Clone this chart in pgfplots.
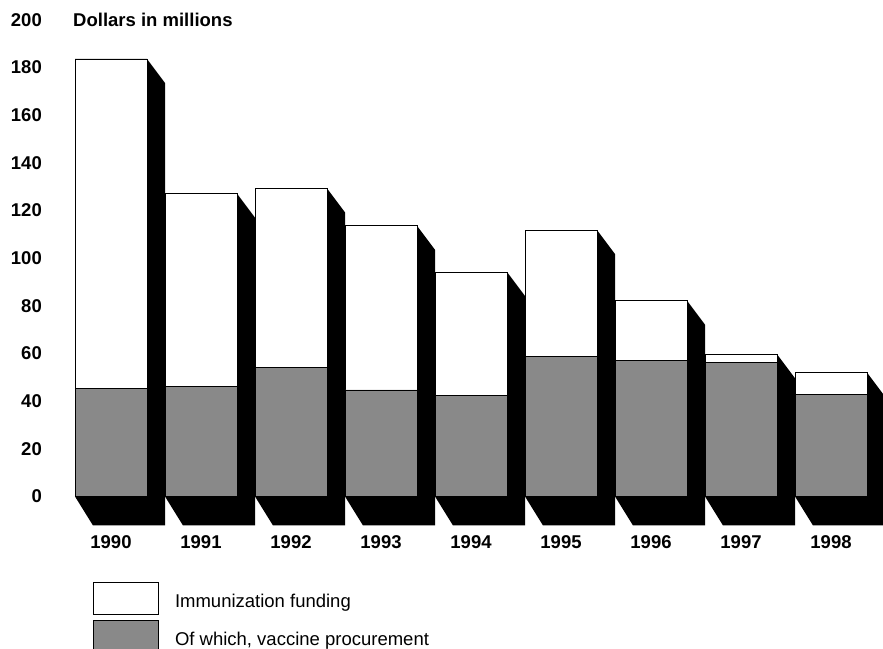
\documentclass[border=0pt]{standalone}
\usepackage{pgfplots}
\pgfplotsset{compat=1.18}
\usepackage{pgfplotstable}
\usepackage{fontspec}
\setmainfont{Liberation Sans}
\definecolor{vacc}{RGB}{137,137,137}
\newcommand\lab{\fontsize{18.5bp}{22bp}\selectfont}

\pgfplotstableread{
x total vaccine
0 183.6 45.5
1 127.1 46.0
2 129.3 54.3
3 113.6 44.7
4 94.2 42.3
5 111.8 58.7
6 82.2 56.9
7 59.7 56.2
8 52.0 43.0
}\data

\begin{document}
\begin{tikzpicture}
\begin{axis}[
  width=883bp, height=649bp, scale only axis,
  at={(0,0)}, anchor=south west,
  xmin=-1.233333, xmax=8.577778,
  ymin=-64.0, ymax=208.35,
  clip=false,
  axis line style={draw=none},
  major tick length=0pt,
  ytick={0,20,...,200},
  xtick={0,1,2,3,4,5,6,7,8},
  xticklabels={1990,1991,1992,1993,1994,1995,1996,1997,1998},
  ticklabel style={font=\lab\bfseries},
  yticklabel style={anchor=east, inner sep=0pt, xshift=42bp},
  xticklabel style={anchor=center, yshift=107bp},
  /pgf/number format/assume math mode=true,
  legend style={at={(axis cs:-0.2,-35.88)}, anchor=north west, draw=none, fill=none,
    inner sep=0pt, row sep=5bp, column sep=0pt, nodes={inner sep=0pt}, font=\lab},
  legend cell align=left,
  legend image code/.code={\draw[#1] (0bp,-13.3bp) rectangle (65bp,18.7bp); \path (81bp,0bp);},
]
\pgfplotsinvokeforeach{0,...,8}{%
  \pgfplotstablegetelem{#1}{total}\of\data
  \let\T\pgfplotsretval
  \pgfmathsetmacro\xa{#1-0.4}%
  \pgfmathsetmacro\xb{#1+0.4}%
  \pgfmathsetmacro\xc{#1+0.6}%
  \pgfmathsetmacro\xd{#1-0.2}%
  \pgfmathsetmacro\Tb{\T-10.07}%
  \edef\shadowcmd{\noexpand\addplot[fill=black, draw=none, forget plot] coordinates {(\xa,\T) (\xb,\T) (\xc,\Tb) (\xc,-12.17) (\xd,-12.17) (\xa,0)};}%
  \shadowcmd
}
\addplot[ybar, bar width=0.8, bar shift=0pt, fill=white, draw=black, line width=0.8bp] table[x=x, y=total]{\data};
\addlegendentry{Immunization funding}
\addplot[ybar, bar width=0.8, bar shift=0pt, fill=vacc, draw=black, line width=0.8bp] table[x=x, y=vaccine]{\data};
\addlegendentry{Of which, vaccine procurement}
\node[anchor=west, inner sep=0pt, font=\lab\bfseries] at (axis cs:-0.4222,200) {Dollars in millions};
\end{axis}
\pgfresetboundingbox
\useasboundingbox (0,0) rectangle (883bp,649bp);
\end{tikzpicture}
\end{document}
